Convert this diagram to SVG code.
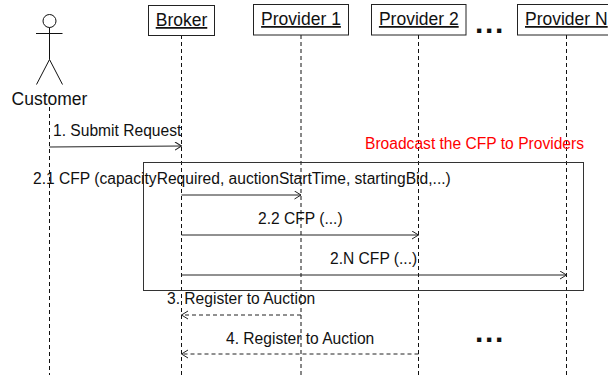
<svg xmlns="http://www.w3.org/2000/svg" width="608" height="375" viewBox="0 0 608 375">
<style>
text{font-family:"Liberation Sans",Arial,sans-serif;font-size:14px;fill:#111}
.box{fill:#fff;stroke:#222;stroke-width:1}
.life{fill:none;stroke:#111;stroke-width:1;stroke-dasharray:4 3}
.msg{fill:none;stroke:#222;stroke-width:1}
.ret{fill:none;stroke:#222;stroke-width:1;stroke-dasharray:4 3}
.dots{font-size:30px;font-weight:bold;letter-spacing:1.7px}
.big{font-size:17.500px;text-decoration:underline}
.m{font-size:15.600px}
</style>
<defs>
<marker id="a" markerWidth="8" markerHeight="10" refX="7" refY="4.5" orient="auto" markerUnits="userSpaceOnUse"><path d="M0.5 0.5L7 4.5L0.5 8.5" fill="none" stroke="#222" stroke-width="1"/></marker>
</defs>
<g id="lifelines">
<path class="life" d="M49.500 107V375"/>
<path class="life" d="M181.500 35V375"/>
<path class="life" d="M301 35V375"/>
<path class="life" d="M418.500 35V375"/>
<path class="life" d="M566.500 35V375"/>
</g>
<g id="frame"><rect x="143.500" y="162.500" width="440" height="128" fill="none" stroke="#333" stroke-width="1"/></g>
<g id="customer" fill="none" stroke="#111" stroke-width="1">
<circle cx="49.500" cy="21" r="6.500"/>
<path d="M49.500 27.500V59.500M36 33.500H62.500M49.500 59.500L36.500 84.500M49.500 59.500L62.500 84.500"/>
<text x="49.500" y="105" text-anchor="middle" style="font-size:17.500px;stroke:none">Customer</text>
</g>
<g id="broker"><rect class="box" x="148.500" y="5.500" width="66" height="30"/><text class="big" x="181.500" y="26" text-anchor="middle">Broker</text></g>
<g id="provider1"><rect class="box" x="253.500" y="4.500" width="95" height="30.500"/><text class="big" x="301" y="25" text-anchor="middle">Provider 1</text></g>
<g id="provider2"><rect class="box" x="371.500" y="4.500" width="94.500" height="30.500"/><text class="big" x="418.800" y="25" text-anchor="middle">Provider 2</text></g>
<g id="providerN"><rect class="box" x="517.500" y="4.500" width="95" height="30.500"/><text class="big" x="525" y="25">Provider N</text></g>
<g id="connectors">
<path class="msg" d="M49.500 147L181.500 146" marker-end="url(#a)"/>
<path class="msg" d="M181.500 195H301" marker-end="url(#a)"/>
<path class="msg" d="M181.500 235H418.500" marker-end="url(#a)"/>
<path class="msg" d="M181.500 275H566.500" marker-end="url(#a)"/>
<path class="ret" d="M301 315H181.500" marker-end="url(#a)"/>
<path class="ret" d="M418.500 354H181.500" marker-end="url(#a)"/>
</g>
<g id="labels">
<text class="m" x="53" y="136">1. Submit Request</text>
<text class="m" x="33" y="184">2.1 CFP (capacityRequired, auctionStartTime, startingBid,...)</text>
<text class="m" x="258" y="224">2.2 CFP (...)</text>
<text class="m" x="330" y="264">2.N CFP (...)</text>
<text class="m" x="167" y="304">3. Register to Auction</text>
<text class="m" x="226" y="344">4. Register to Auction</text>
<text class="m" x="365" y="149" style="fill:#f00">Broadcast the CFP to Providers</text>
<text class="dots" x="475" y="32.500">...</text>
<text class="dots" x="475" y="341.500">...</text>
</g>
</svg>
